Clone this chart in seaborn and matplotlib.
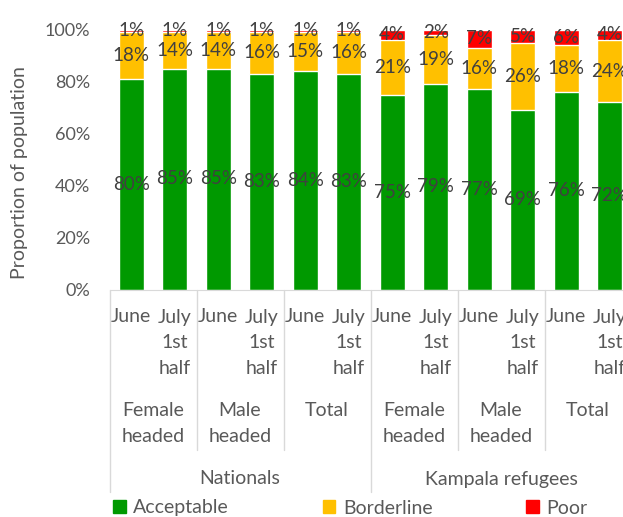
import matplotlib
matplotlib.use('Agg')
import matplotlib.pyplot as plt
import matplotlib.transforms as mtransforms
from matplotlib.patches import Patch
import seaborn as sns
import pandas as pd
import numpy as np

# data
populations = ['Nationals', 'Kampala refugees']
groups = ['Female\nheaded', 'Male\nheaded', 'Total']
periods = ['June', 'July\n1st\nhalf']
acceptable = [80, 85, 85, 83, 84, 83, 75, 79, 77, 69, 76, 72]
borderline = [18, 14, 14, 16, 15, 16, 21, 19, 16, 26, 18, 24]
poor = [1, 1, 1, 1, 1, 1, 4, 2, 7, 5, 6, 4]

GREEN, YELLOW, RED = '#009900', '#FFC000', '#FF0000'
TXT = '#595959'
LBL = '#404040'

sns.set_style('white')
plt.rcParams['font.family'] = ['Lato', 'DejaVu Sans']

rows = []
for pi, pop in enumerate(populations):
    for gi, grp in enumerate(groups):
        for ti, per in enumerate(periods):
            rows.append({'pop': pop, 'grp': grp, 'per': per})
df = pd.DataFrame(rows)
df['bar'] = [f'b{i}' for i in range(len(df))]
df['acceptable'] = acceptable
df['borderline'] = borderline
df['poor'] = poor
tot = df[['acceptable', 'borderline', 'poor']].sum(axis=1)
# 100% stacked shares
df['s_acc'] = df['acceptable'] / tot * 100
df['s_bor'] = df['borderline'] / tot * 100
df['s_poo'] = df['poor'] / tot * 100
df['c1'] = df['s_acc']
df['c2'] = df['s_acc'] + df['s_bor']
df['c3'] = df['c2'] + df['s_poo']
order = list(df['bar'])

fig = plt.figure(figsize=(6.23, 5.17), dpi=100)
ax = fig.add_axes([109.5 / 623, 1 - 289.5 / 517, 522 / 623, 260 / 517])

W = 0.575
sns.barplot(data=df, x='bar', y='c3', order=order, color=RED, width=W, saturation=1, errorbar=None, ax=ax)
sns.barplot(data=df, x='bar', y='c2', order=order, color=YELLOW, width=W, saturation=1, errorbar=None, ax=ax)
sns.barplot(data=df, x='bar', y='c1', order=order, color=GREEN, width=W, saturation=1, errorbar=None, ax=ax)

# segment labels
for i, r in df.iterrows():
    ax.text(i, r['c1'] / 2, f"{r['acceptable']}%", ha='center', va='center', fontsize=13.5, color=LBL)
    ax.text(i, (r['c1'] + r['c2']) / 2, f"{r['borderline']}%", ha='center', va='center', fontsize=13.5, color=LBL)
    ax.text(i, (r['c2'] + r['c3']) / 2, f"{r['poor']}%", ha='center', va='center', fontsize=13.5, color=LBL)

ax.set_xlim(-0.5, len(df) - 0.5)
ax.set_ylim(0, 100)
ax.set_yticks(np.arange(0, 101, 20))
ax.set_yticklabels([f'{v}%' for v in range(0, 101, 20)])
ax.tick_params(axis='y', length=0, pad=14, labelsize=13, labelcolor=TXT)
ax.set_xticks([])
ax.set_xlabel('')
ax.set_ylabel('Proportion of population', fontsize=14, color=TXT)
ax.yaxis.set_label_coords(-(109.5 - 28) / 522, 0.45)
for s in ['left', 'right', 'top']:
    ax.spines[s].set_visible(False)
ax.spines['bottom'].set_color('#d9d9d9')

# multi-level category axis
tr = mtransforms.blended_transform_factory(ax.transData, ax.transAxes)
def fy(px):
    return (289.5 - px) / 260

FS = 14
line_y = [317, 343, 369]
for i, r in df.iterrows():
    for k, part in enumerate(r['per'].split('\n')):
        ax.text(i, fy(line_y[k]), part, transform=tr, ha='center', va='center',
                fontsize=FS, color=TXT, clip_on=False)

n_per = len(periods)
for gi in range(len(populations) * len(groups)):
    xc = gi * n_per + (n_per - 1) / 2
    for k, part in enumerate(groups[gi % len(groups)].split('\n')):
        ax.text(xc, fy([410.5, 436.5][k]), part, transform=tr, ha='center', va='center',
                fontsize=FS, color=TXT, clip_on=False)

n_pop = len(groups) * n_per
for pi, pop in enumerate(populations):
    xc = pi * n_pop + (n_pop - 1) / 2
    ax.text(xc, fy(479), pop, transform=tr, ha='center', va='center',
            fontsize=FS, color=TXT, clip_on=False)

for gi in range(1, len(populations) * len(groups)):
    xb = gi * n_per - 0.5
    bottom = fy(492) if gi % len(groups) == 0 else fy(450)
    ax.plot([xb, xb], [0, bottom], transform=tr, color='#d9d9d9', lw=1, clip_on=False)
ax.plot([-0.5, -0.5], [0, fy(492)], transform=tr, color='#d9d9d9', lw=1, clip_on=False)

handles = [Patch(color=GREEN, label='Acceptable'),
           Patch(color=YELLOW, label='Borderline'),
           Patch(color=RED, label='Poor')]
fig.legend(handles=handles, loc='center left', bbox_to_anchor=(113 / 623, 1 - 508 / 517),
           ncol=3, frameon=False, fontsize=FS, labelcolor=TXT, handlelength=0.65,
           handleheight=0.65, handletextpad=0.4, columnspacing=4.8, borderaxespad=0,
           borderpad=0)

fig.savefig('out.png', dpi=100)
